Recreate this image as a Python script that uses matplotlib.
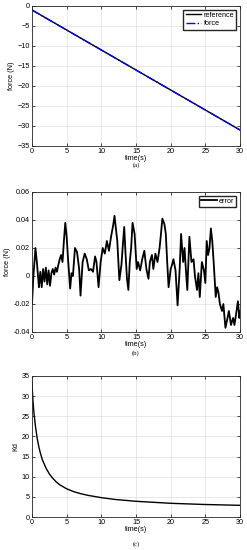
import matplotlib
matplotlib.use("Agg")
import matplotlib.pyplot as plt
import numpy as np

# (a) reference / force
t_force = [0, 30]
reference = [-1, -31]
force = [-1, -31]

# (b) tracking error
t_err = [0.0, 0.2, 0.5, 0.7, 0.9, 1.0, 1.2, 1.4, 1.6, 1.8, 2.0, 2.2, 2.4, 2.6, 2.8,
         3.0, 3.2, 3.4, 3.6, 3.8, 4.0, 4.2, 4.4, 4.6, 4.8, 5.0, 5.2, 5.5, 5.7,
         5.9, 6.2, 6.5, 6.8, 7.0, 7.3, 7.6, 7.9, 8.2, 8.5, 8.8, 9.1, 9.3, 9.6,
         9.9, 10.2, 10.5, 10.8, 11.1, 11.4, 11.7, 11.9, 12.1, 12.3, 12.6, 12.9,
         13.1, 13.3, 13.5, 13.7, 13.9, 14.1, 14.3, 14.5, 14.8, 15.1, 15.3, 15.6,
         15.9, 16.2, 16.5, 16.8, 17.0, 17.3, 17.5, 17.8, 18.1, 18.4, 18.6, 18.8,
         19.1, 19.3, 19.5, 19.7, 20.0, 20.2, 20.4, 20.7, 21.0, 21.3, 21.5, 21.8,
         22.0, 22.2, 22.4, 22.7, 23.0, 23.3, 23.5, 23.8, 24.0, 24.2, 24.5, 24.8,
         25.0, 25.2, 25.4, 25.6, 25.8, 26.0, 26.2, 26.5, 26.7, 26.9, 27.1, 27.4,
         27.6, 27.9, 28.2, 28.4, 28.7, 29.0, 29.2, 29.5, 29.7, 29.9, 30.0]
error = [-0.020, 0.000, 0.020, 0.010, -0.002, -0.008, 0.003, -0.008, 0.005, -0.004,
         0.006, -0.006, 0.004, -0.007, 0.002, 0.005, 0.001, 0.006, 0.003, 0.008,
         0.012, 0.015, 0.010, 0.025, 0.038, 0.028, 0.012, -0.009, 0.002, 0.000,
         0.020, 0.017, 0.005, -0.014, 0.010, 0.016, 0.012, 0.004, 0.005, 0.003,
         0.014, 0.010, -0.008, 0.010, 0.020, 0.016, 0.025, 0.018, 0.028, 0.036,
         0.043, 0.034, 0.025, -0.003, 0.008, 0.022, 0.035, 0.015, -0.002, -0.010,
         0.010, 0.020, 0.038, 0.030, 0.005, 0.010, 0.004, 0.012, 0.018, 0.005,
         -0.002, 0.010, 0.015, 0.005, 0.016, 0.010, 0.020, 0.030, 0.041, 0.037,
         0.030, 0.010, -0.008, 0.005, 0.008, 0.012, 0.004, -0.021, 0.005, 0.030,
         0.010, 0.020, 0.004, -0.010, 0.028, 0.010, 0.012, 0.000, -0.010, 0.002,
         -0.015, 0.010, 0.004, -0.005, 0.025, 0.015, 0.020, 0.034, 0.025, 0.010,
         -0.015, -0.008, -0.012, -0.020, -0.025, -0.020, -0.037, -0.030, -0.025,
         -0.035, -0.030, -0.035, -0.025, -0.018, -0.030, -0.025]

# (c) Kd gain
t_kd = [0, 0.05, 0.15, 0.3, 0.5, 0.75, 1, 1.25, 1.5, 2, 2.5, 3, 3.5, 4, 5, 6, 7,
        8, 10, 12, 15, 18, 20, 25, 30]
kd = [33.5, 31.5, 28.5, 25.5, 22.5, 19.5, 17.3, 15.6, 14.2, 12.2, 10.7, 9.6,
      8.7, 8.0, 7.0, 6.3, 5.8, 5.4, 4.8, 4.35, 3.9, 3.6, 3.4, 3.1, 2.9]

plt.rcParams["font.family"] = ["Liberation Sans", "DejaVu Sans"]
plt.rcParams["font.size"] = 5.2

W, H = 247, 550
fig = plt.figure(figsize=(W / 100, H / 100), dpi=100)


def make_ax(top, bottom):
    ax = fig.add_axes([32 / W, 1 - bottom / H, 208 / W, (bottom - top) / H])
    ax.grid(True, color="#dedede", linewidth=0.5)
    ax.set_axisbelow(True)
    ax.tick_params(direction="in", length=2, width=0.5, pad=1.5,
                   top=True, right=True, labelsize=5.2)
    for s in ax.spines.values():
        s.set_linewidth(0.6)
        s.set_color("#262626")
    ax.set_xlim(0, 30)
    ax.set_xticks(range(0, 31, 5))
    ax.set_xlabel("time(s)", labelpad=0)
    return ax


ax1 = make_ax(6, 146)
ax1.plot(t_force, reference, color="black", linewidth=1.0, label="reference")
ax1.plot(t_force, force, color="blue", linewidth=1.0, linestyle="-.", label="force")
ax1.set_ylim(-35, 0)
ax1.set_yticks(range(-35, 1, 5))
ax1.set_ylabel("force (N)", labelpad=2)
ax1.legend(loc="upper right", fontsize=5.2, frameon=True, fancybox=False,
           edgecolor="#262626", framealpha=1, handlelength=2.2,
           borderpad=0.3, labelspacing=0.2, handletextpad=0.3)

ax2 = make_ax(192, 332)
ax2.plot(t_err, error, color="black", linewidth=1.3, label="error")
ax2.set_ylim(-0.04, 0.06)
ax2.set_yticks([-0.04, -0.02, 0, 0.02, 0.04, 0.06])
ax2.set_yticklabels(["-0.04", "-0.02", "0", "0.02", "0.04", "0.06"])
ax2.set_ylabel("force (N)", labelpad=2)
ax2.legend(loc="upper right", fontsize=5.2, frameon=True, fancybox=False,
           edgecolor="#262626", framealpha=1, handlelength=2.2,
           borderpad=0.3, handletextpad=0.3)

ax3 = make_ax(376, 517)
ax3.plot(t_kd, kd, color="black", linewidth=1.0)
ax3.set_ylim(0, 35)
ax3.set_yticks(range(0, 36, 5))
ax3.set_ylabel("Kd", labelpad=2)

for lab, y in [("(a)", 165), ("(b)", 353), ("(c)", 544)]:
    fig.text(136 / W, 1 - y / H, lab, ha="center", va="center",
             family=["Liberation Serif", "DejaVu Serif"], fontsize=4.8)

fig.savefig("out.png", dpi=100)
